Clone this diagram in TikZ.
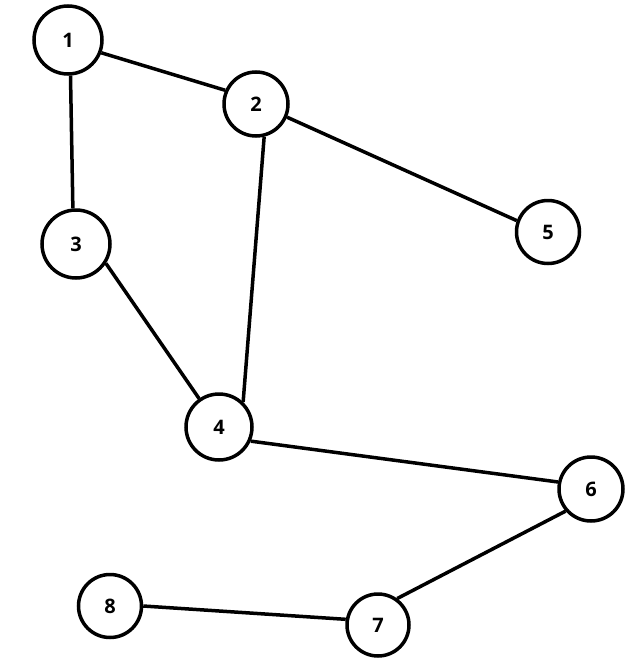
\documentclass[tikz,border=0pt]{standalone}
\usepackage{fontspec}
\setmainfont{Open Sans}
\begin{document}
\begin{tikzpicture}[x=1pt, y=-1pt,
    vert/.style={draw, circle, line width=3.5pt, minimum size=64pt, inner sep=0pt,
      font=\fontsize{20}{24}\selectfont\bfseries},
    edge/.style={line width=3.5pt}]
  \useasboundingbox (0,0) rectangle (632,664);
  % vertices
  \node[vert, minimum size=68pt] (n1) at (68,40) {1};
  \node[vert] (n2) at (256,104) {2};
  \node[vert, minimum size=68pt] (n3) at (76,244) {3};
  \node[vert, minimum size=66pt] (n4) at (219,427) {4};
  \node[vert, minimum size=63pt] (n5) at (548,232) {5};
  \node[vert] (n6) at (591,489) {6};
  \node[vert, minimum size=62pt] (n7) at (378,625) {7};
  \node[vert, minimum size=63pt] (n8) at (110,606) {8};
  % edges
  \draw[edge] (n1.-21) -- (n2.156);
  \draw[edge] (n1.-86) -- (n3.95);
  \draw[edge] (n2.-23) -- (n5.160);
  \draw[edge] (n2.-76) -- (n4.46);
  \draw[edge] (n3.-33) -- (n4.125);
  \draw[edge] (n4.-24) -- (n6.168);
  \draw[edge] (n6.221) -- (n7.54);
  \draw[edge] (n8.0) -- (n7.170);
\end{tikzpicture}
\end{document}
